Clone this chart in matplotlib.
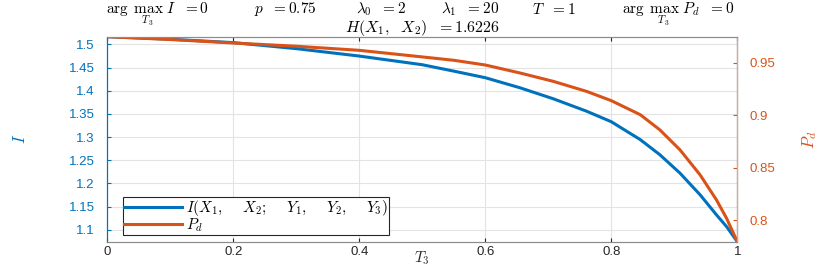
import matplotlib
matplotlib.use("Agg")
import matplotlib.pyplot as plt

plt.rcParams['mathtext.fontset'] = 'cm'
plt.rcParams['font.family'] = ['Liberation Sans', 'DejaVu Sans']

# values
t3 = [0, 0.1, 0.2, 0.3, 0.4, 0.5, 0.55, 0.6, 0.655, 0.708, 0.761, 0.8,
      0.846, 0.877, 0.909, 0.941, 0.967, 0.983, 1.0]
info = [1.5165, 1.511, 1.5037, 1.4907, 1.4747, 1.456, 1.4422, 1.428, 1.4063,
        1.3825, 1.3556, 1.333, 1.2944, 1.2619, 1.2222, 1.1753, 1.132, 1.1067, 1.0742]
pd_ = [0.975, 0.9723, 0.969, 0.9659, 0.962, 0.9557, 0.9525, 0.948, 0.9404,
       0.9324, 0.9228, 0.914, 0.9006, 0.8862, 0.8671, 0.8432, 0.8193, 0.8018, 0.7795]
xticks = [0, 0.2, 0.4, 0.6, 0.8, 1]
yticks_l = [1.1, 1.15, 1.2, 1.25, 1.3, 1.35, 1.4, 1.45, 1.5]
yticks_r = [0.8, 0.85, 0.9, 0.95]
title_items = [r'$\arg\ \max_{T_3}\ I\ \ {=}0$', r'$p\ \ {=}0.75$', r'$\lambda_0\ \ {=}2$',
               r'$\lambda_1\ \ {=}20$', r'$T\ \ {=}1$', r'$\arg\ \max_{T_3}\ P_d\ \ {=}0$']

blue = '#0072BD'
orange = '#D95319'
dark = '#262626'

fig = plt.figure(figsize=(8.3, 2.73), dpi=100)
ax = fig.add_axes([0.1293, 0.1147, 0.7590, 0.7509])
ax2 = ax.twinx()

gap = r',\ \ \ \ '
l1, = ax.plot(t3, info, color=blue, lw=2.2,
              label=r'$I(X_1' + gap + r'X_2;\ \ \ \ Y_1' + gap + 'Y_2' + gap + 'Y_3)$')
l2, = ax2.plot(t3, pd_, color=orange, lw=2.2, label=r'$P_d$')

ax.set_xlim(0, 1)
ax.set_ylim(min(info), max(info))
ax2.set_ylim(min(pd_), max(pd_))
ax.set_xticks(xticks)
ax.set_xticklabels(['0', '0.2', '0.4', '0.6', '0.8', '1'])
ax.set_yticks(yticks_l)
ax.set_yticklabels(['1.1', '1.15', '1.2', '1.25', '1.3', '1.35', '1.4', '1.45', '1.5'])
ax2.set_yticks(yticks_r)
ax2.set_yticklabels(['0.8', '0.85', '0.9', '0.95'])

ax.grid(True, color='#e3e3e3', lw=0.8)
ax.set_axisbelow(True)

ax.tick_params(axis='x', direction='in', top=True, colors=dark, labelsize=9.5, length=3, pad=3)
ax.tick_params(axis='y', direction='in', colors=blue, labelsize=9.5, length=3, pad=9)
ax2.tick_params(axis='y', direction='in', colors=orange, labelsize=9.5, length=3, pad=9)

for a in (ax, ax2):
    a.spines['left'].set_color(blue)
    a.spines['top'].set_color('#8c8c8c')
    a.spines['bottom'].set_color('#8c8c8c')
ax2.spines['right'].set_color('#f0a080')

ax.set_xlabel(r'$T_3$', fontsize=11, color=dark)
ax.xaxis.set_label_coords(0.5, -0.08)
ax.xaxis.label.set_va('center')
ax.set_ylabel(r'$I$', fontsize=12, color=blue, va='center')
ax.yaxis.set_label_coords(-0.139, 0.5)
ax2.set_ylabel(r'$P_d$', fontsize=12, color=orange, va='center')
ax2.yaxis.set_label_coords(1.115, 0.5)

# title line 1: items centred where the reference puts them (pixels)
item_x = [157, 285, 381, 470, 554, 678]
for s, px in zip(title_items, item_x):
    base = 14.0 if 'max' in s else 13.5
    fig.text(px / 830, 1 - base / 273, s, fontsize=11, ha='center', va='baseline')
fig.text(422 / 830, 1 - 32.3 / 273, r'$H(X_1,\ \ X_2)\ \ {=}1.6226$', fontsize=11.5,
         ha='center', va='baseline')

leg = ax.legend([l1, l2], [l1.get_label(), l2.get_label()], loc='lower left',
                fontsize=11, handlelength=3.8, handletextpad=0.3, borderpad=0.05,
                labelspacing=-0.1, borderaxespad=0, fancybox=False,
                edgecolor=dark, framealpha=1, bbox_to_anchor=(0.025, 0.033))
leg.get_frame().set_linewidth(0.8)

fig.savefig('out.png', dpi=100)
